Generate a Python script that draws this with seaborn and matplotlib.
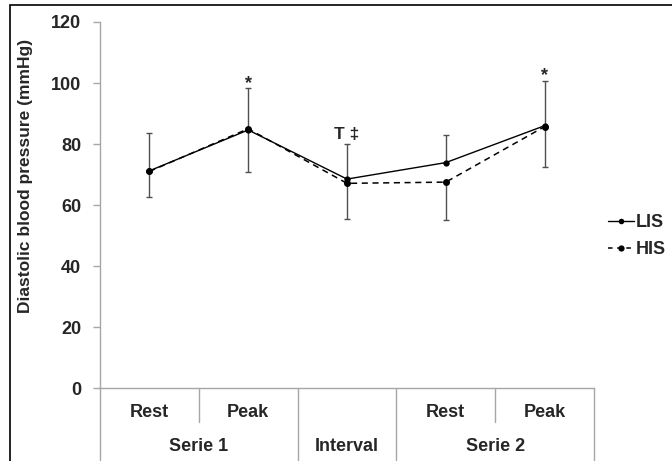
import numpy as np
import pandas as pd
import matplotlib
matplotlib.use('Agg')
import matplotlib.pyplot as plt
import matplotlib.transforms as mtransforms
from matplotlib.patches import Rectangle
from matplotlib.lines import Line2D
import seaborn as sns

# Data
phases = ['Rest', 'Peak', '', 'Rest', 'Peak']
groups = ['Serie 1', 'Interval', 'Serie 2']
group_spans = [(0, 1), (2, 2), (3, 4)]
lis = [71.2, 84.6, 68.5, 73.9, 86.0]
his = [71.0, 85.0, 67.1, 67.5, 85.7]
lis_err = [12.3, 13.7, 11.4, 8.9, 14.8]   # upper bars
his_err = [8.5, 14.2, 11.7, 12.3, 13.3]   # lower bars
marks = ['', '*', 'T \u2021', '', '*']

sns.set_theme(style='white')
plt.rcParams['font.family'] = ['Liberation Sans', 'DejaVu Sans']
plt.rcParams['font.weight'] = 'bold'

df = pd.DataFrame({
    'pos': list(range(5)) * 2,
    'value': lis + his,
    'group': ['LIS'] * 5 + ['HIS'] * 5,
})

fig = plt.figure(figsize=(6.72, 4.61), dpi=100)
ax = fig.add_axes([100 / 672, 1 - 388 / 461, 494 / 672, 366 / 461])

x = np.arange(5)
# error bars: LIS upward, HIS downward
ax.errorbar(x, lis, yerr=[np.zeros(5), lis_err], fmt='none', ecolor='#505050',
            elinewidth=1, capsize=2.5, capthick=1, zorder=1)
ax.errorbar(x, his, yerr=[his_err, np.zeros(5)], fmt='none', ecolor='#505050',
            elinewidth=1, capsize=2.5, capthick=1, zorder=1)

sns.lineplot(data=df[df.group == 'LIS'], x='pos', y='value', ax=ax, color='black',
             lw=1, marker='o', markersize=4.5, markeredgewidth=0, zorder=3, legend=False)
sns.lineplot(data=df[df.group == 'HIS'], x='pos', y='value', ax=ax, color='black',
             lw=1.1, linestyle=(0, (4, 3)), marker='o', markersize=5,
             markeredgewidth=0, zorder=2, legend=False)

for i, m in enumerate(marks):
    if m == '*':
        ax.text(i, lis[i] + lis_err[i] - 1.2, m, ha='center', va='bottom',
                fontsize=13, fontweight='bold')
    elif m:
        ax.text(i, lis[i] + lis_err[i] + 0.8, m, ha='center', va='bottom',
                fontsize=12.5, fontweight='bold')

ax.set_ylim(0, 120)
ax.set_xlim(-0.5, 4.5)
ax.set_yticks(range(0, 121, 20))
ax.set_xticks([])
ax.set_xlabel('')
ax.set_ylabel('Diastolic blood pressure (mmHg)', fontsize=12.5, fontweight='bold')
ax.yaxis.set_label_coords(-0.136, 0.58)
ax.tick_params(axis='y', which='both', left=True, length=5, width=1, color='#a6a6a6',
               labelsize=13, pad=8.5)
for lab in ax.get_yticklabels():
    lab.set_fontweight('bold')

for s in ['top', 'right']:
    ax.spines[s].set_visible(False)
for s in ['left', 'bottom']:
    ax.spines[s].set_color('#a6a6a6')
    ax.spines[s].set_linewidth(1)

# multi-level category axis
trans = mtransforms.blended_transform_factory(ax.transData, ax.transAxes)
for i, p in enumerate(phases):
    if p:
        ax.text(i, -0.068, p, transform=trans, ha='center', va='center', fontsize=13,
                fontweight='bold')
for g, (a, b) in zip(groups, group_spans):
    ax.text((a + b) / 2, -0.161, g, transform=trans, ha='center', va='center',
            fontsize=13, fontweight='bold')
for xb in [-0.5, 1.5, 2.5, 4.5]:
    ax.plot([xb, xb], [0, -0.2], transform=trans, color='#a6a6a6', lw=1, clip_on=False)
for xb in [0.5, 3.5]:
    ax.plot([xb, xb], [0, -0.093], transform=trans, color='#a6a6a6', lw=1, clip_on=False)

handles = [
    Line2D([], [], color='black', lw=1, marker='o', markersize=4, markeredgewidth=0),
    Line2D([], [], color='black', lw=1.1, linestyle=(0, (3, 3)), marker='o',
           markersize=4.5, markeredgewidth=0),
]
fig.legend(handles, ['LIS', 'HIS'], loc='center left',
           bbox_to_anchor=(592 / 672, 1 - 236 / 461), frameon=False,
           handlelength=1.4, handletextpad=0.1, labelspacing=0.55,
           prop={'weight': 'bold', 'size': 13})

fig.add_artist(Rectangle((10 / 672, -0.1), 1.2, 1.1 - 5 / 461, transform=fig.transFigure,
                         fill=False, edgecolor='black', lw=1.2))

fig.savefig('out.png', dpi=100)
